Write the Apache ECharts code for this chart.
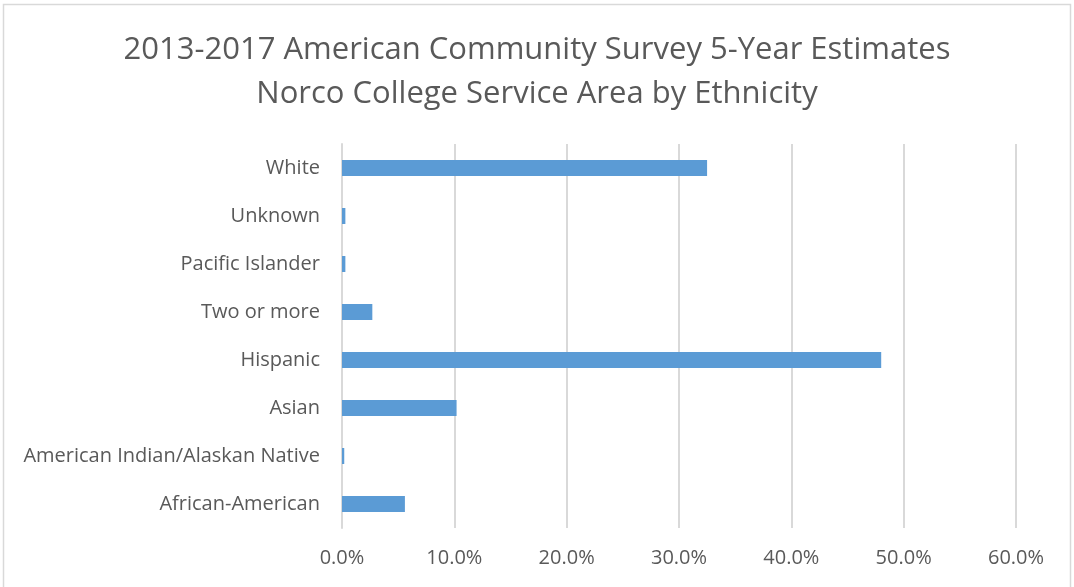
<!DOCTYPE html>
<html><head><meta charset="utf-8">
<script src="https://cdn.jsdelivr.net/npm/echarts@6/dist/echarts.min.js"></script>
<style>html,body{margin:0;padding:0;background:#fff}#c{width:1074px;height:587px}</style>
</head><body><div id="c"></div>
<script>
const categories = ["African-American","American Indian/Alaskan Native","Asian","Hispanic","Two or more","Pacific Islander","Unknown","White"];
const values = [0.056,0.002,0.102,0.480,0.027,0.003,0.003,0.325];
const titleLines = ["2013-2017 American Community Survey 5-Year Estimates","Norco College Service Area by Ethnicity"];

const chart = echarts.init(document.getElementById('c'));
chart.setOption({
  animation:false,
  backgroundColor:'#fff',
  textStyle:{fontFamily:'Open Sans'},
  title:{text:titleLines.join('\n'),left:'center',top:23,
    textStyle:{fontFamily:'Open Sans',fontSize:31,fontWeight:'normal',color:'#595959',lineHeight:44}},
  graphic:[{type:'rect',shape:{x:3.5,y:4.5,width:1067,height:590},style:{fill:'none',stroke:'#d9d9d9',lineWidth:1.5}}],
  grid:{left:342,right:58,top:144,bottom:59},
  xAxis:{type:'value',min:0,max:0.6,interval:0.1,
    axisLine:{show:false},axisTick:{show:false},
    splitLine:{show:true,lineStyle:{color:'#d9d9d9',width:2}},
    axisLabel:{color:'#595959',fontSize:20,margin:20,formatter:v=>(v*100).toFixed(1)+'%'}},
  yAxis:{type:'category',data:categories,
    axisLine:{show:true,lineStyle:{color:'#d9d9d9',width:2}},axisTick:{show:false},
    axisLabel:{color:'#595959',fontSize:20,margin:22,padding:[3,0,0,0]}},
  series:[{type:'bar',data:values,barWidth:16,itemStyle:{color:'#5b9bd5'}}]
});
</script></body></html>
